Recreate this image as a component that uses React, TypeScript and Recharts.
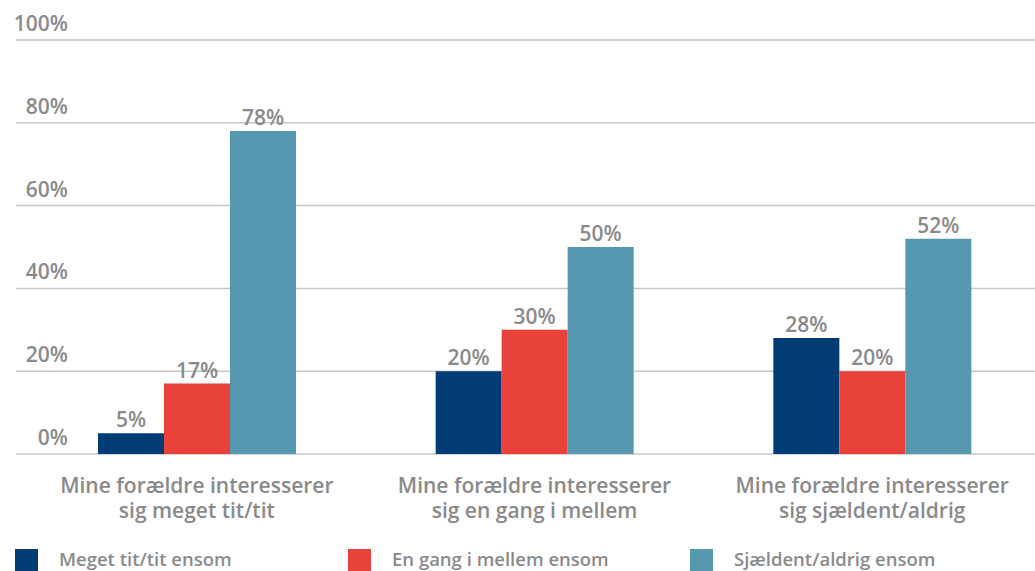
import React from 'react'
import { BarChart, Bar, XAxis, YAxis, CartesianGrid, LabelList, Legend } from 'recharts'

const categories = [
  ['Mine forældre interesserer', 'sig meget tit/tit'],
  ['Mine forældre interesserer', 'sig en gang i mellem'],
  ['Mine forældre interesserer', 'sig sjældent/aldrig']
]
const meget = [5, 20, 28]
const engang = [17, 30, 20]
const sjaelden = [78, 50, 52]
const yTicks = [0, 20, 40, 60, 80, 100]

const series = [
  { key: 'meget', name: 'Meget tit/tit ensom', color: '#013d74', width: 333 },
  { key: 'engang', name: 'En gang i mellem ensom', color: '#e8423b', width: 342 },
  { key: 'sjaelden', name: 'Sjældent/aldrig ensom', color: '#5598af', width: 330 }
]

const data = categories.map((lines, i) => ({
  cat: lines.join('\n'),
  meget: meget[i],
  engang: engang[i],
  sjaelden: sjaelden[i]
}))

const GRAY = '#8a8a8a'
const FONT = '"Open Sans", sans-serif'

const XTick = (props: any) => {
  const { x, y, payload } = props
  const lines = String(payload.value).split('\n')
  return (
    <text x={x} y={y} textAnchor="middle" fill={GRAY} fontSize={21} fontWeight={600} fontFamily={FONT}>
      {lines.map((l, i) => (
        <tspan key={i} x={x} dy={i === 0 ? 33 : 25}>{l}</tspan>
      ))}
    </text>
  )
}

const YTick = (props: any) => {
  const { y, payload } = props
  return (
    <text x={68} y={y - 9} textAnchor="end" fill={GRAY} fontSize={21} fontWeight={600} fontFamily={FONT}>
      {payload.value}%
    </text>
  )
}

const LegendContent = () => (
  <div style={{ display: 'flex', height: 26, fontFamily: FONT }}>
    {series.map((s) => (
      <div key={s.key} style={{ width: s.width, display: 'flex', alignItems: 'flex-start' }}>
        <div style={{ width: 23, height: 23, marginTop: 2, background: s.color }} />
        <span style={{ marginLeft: 21, color: GRAY, fontSize: 18.5, fontWeight: 600, lineHeight: '24px' }}>{s.name}</span>
      </div>
    ))}
  </div>
)

export default function App() {
  return (
    <div style={{ position: 'absolute', left: 0, top: 0, width: 1035, height: 571, overflow: 'hidden', background: '#fff' }}>
      <BarChart
        width={1045}
        height={575}
        data={data}
        margin={{ top: 40, right: 4, left: 15, bottom: 2 }}
        barCategoryGap={70}
        barGap={0}
      >
        <CartesianGrid vertical={false} stroke="#c6c6c6" strokeWidth={1.5} />
        <XAxis
          dataKey="cat"
          axisLine={false}
          tickLine={false}
          tickMargin={0}
          height={93}
          padding={{ left: 12, right: 0 }}
          tick={<XTick />}
          interval={0}
        />
        <YAxis
          width={1}
          domain={[0, 100]}
          ticks={yTicks}
          axisLine={false}
          tickLine={false}
          tickMargin={0}
          tick={<YTick />}
          interval={0}
        />
        <Legend verticalAlign="bottom" align="left" content={<LegendContent />} wrapperStyle={{ left: 15 }} />
        {series.map((s) => (
          <Bar key={s.key} dataKey={s.key} name={s.name} fill={s.color} isAnimationActive={false}>
            <LabelList
              dataKey={s.key}
              position="top"
              offset={6}
              formatter={(v: any) => `${v}%`}
              fill={GRAY}
              fontSize={21}
              fontWeight={600}
              fontFamily={FONT}
            />
          </Bar>
        ))}
      </BarChart>
    </div>
  )
}
